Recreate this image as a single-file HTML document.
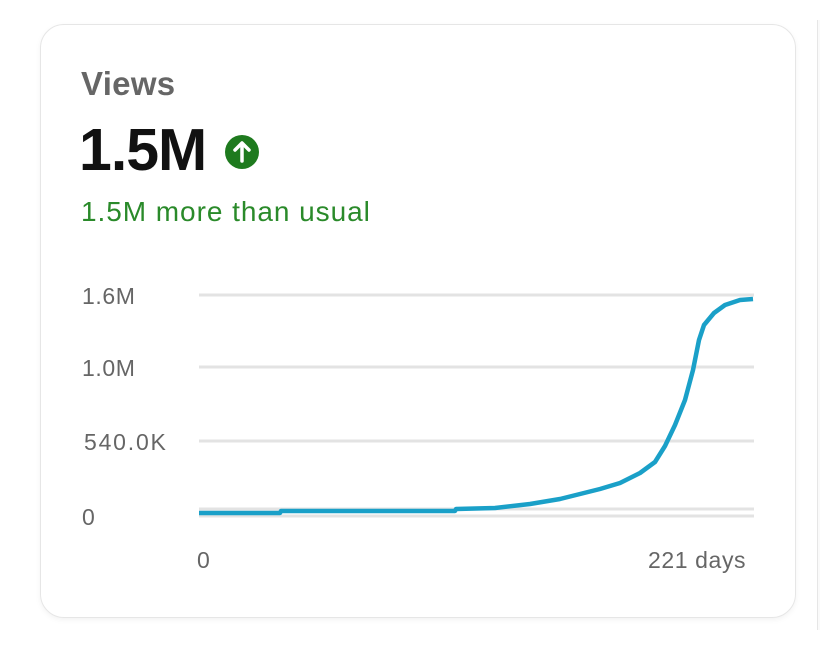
<!DOCTYPE html>
<html><head><style>
body{margin:0;width:820px;height:645px;background:#fff;font-family:"Liberation Sans",sans-serif;position:relative;overflow:hidden}
.card{position:absolute;left:40px;top:24px;width:754px;height:592px;border:1px solid #e6e6e6;border-radius:24px;box-shadow:0 2px 6px rgba(0,0,0,0.05)}
.side{position:absolute;left:817px;top:20px;width:10px;height:610px;border-left:1px solid #e6e6e6;background:#fafafa}
.t{position:absolute;white-space:nowrap}
.ax{font-size:23px;color:#666;letter-spacing:0.6px}
</style></head><body>
<div class="side"></div>
<div class="card"></div>
<div class="t" style="left:81px;top:65px;font-size:33px;font-weight:bold;color:#666;letter-spacing:0.3px">Views</div>
<div class="t" style="left:79px;top:116px;font-size:59px;font-weight:bold;color:#111;letter-spacing:-1px">1.5M</div>
<svg class="t" style="left:224px;top:134px" width="36" height="36" viewBox="0 0 36 36"><circle cx="18" cy="18" r="17" fill="#1e7a1e"/><path d="M18 27V10M11 16L18 9L25 16" stroke="#fff" stroke-width="3.5" fill="none" stroke-linecap="round" stroke-linejoin="round"/></svg>
<div class="t" style="left:81px;top:196px;font-size:28px;color:#2a8a2a;letter-spacing:0.95px">1.5M more than usual</div>
<div class="t ax" style="left:82px;top:283px">1.6M</div>
<div class="t ax" style="left:82px;top:355px">1.0M</div>
<div class="t ax" style="left:84px;top:429px;letter-spacing:1.8px">540.0K</div>
<div class="t ax" style="left:82px;top:504px">0</div>
<div class="t ax" style="left:197px;top:547px">0</div>
<div class="t ax" style="left:648px;top:547px">221 days</div>
<svg class="t" style="left:0;top:0" width="820" height="645">
<g stroke="#e3e3e3" stroke-width="3"><line x1="199" y1="295" x2="754" y2="295"/><line x1="199" y1="367" x2="754" y2="367"/><line x1="199" y1="441" x2="754" y2="441"/><line x1="199" y1="509" x2="754" y2="509"/><line x1="199" y1="516" x2="754" y2="516"/></g>
<path d="M199 513 L280 513 L281 511 L455 511 L456 509 L495 508 L530 504 L560 499 L580 494 L600 489 L620 483 L640 473 L655 462 L665 446 L675 425 L685 400 L693 370 L699 340 L704 325 L714 313 L725 305 L740 300 L753 299" fill="none" stroke="#1aa0c8" stroke-width="4.5" stroke-linejoin="round"/>
</svg>
</body></html>
